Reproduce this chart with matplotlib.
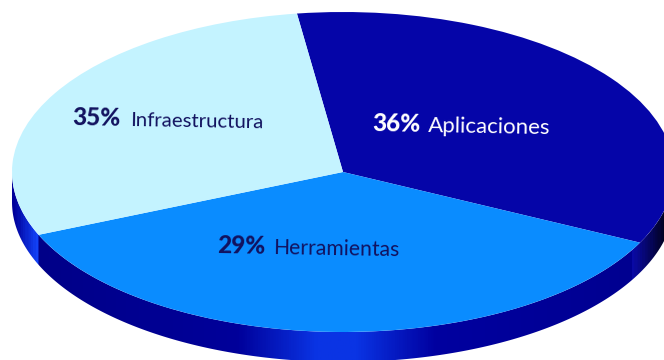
import numpy as np
import matplotlib
matplotlib.use('Agg')
from matplotlib import pyplot as plt
from matplotlib.colors import LinearSegmentedColormap
from matplotlib.patches import Polygon

# shares as drawn in the picture (they don't follow the printed percents)
names = ['Aplicaciones', 'Herramientas', 'Infraestructura']
percents = ['36%', '29%', '35%']
drawn_shares = [34.5, 36.3, 29.2]
colors = ['#0505a8', '#0a8cff', '#c4f3ff']
text_colors = ['white', '#12125f', '#12125f']

W, H = 664, 360
cx, cy, rx, ry = 343, 172, 331, 160
depth = 30 / ry

fig = plt.figure(figsize=(W / 100, H / 100), dpi=100)
ax = fig.add_axes([0, 0, 1, 1])

# wall of the pie, shaded left to right
t = np.linspace(np.pi, 2 * np.pi, 300)
wall = np.vstack([np.c_[np.cos(t), np.sin(t) - depth], np.c_[np.cos(t[::-1]), np.sin(t[::-1])]])
wall_cmap = LinearSegmentedColormap.from_list('wall', [
    (0.0, '#00009a'), (0.038, '#1448ff'), (0.0381, '#000088'), (0.34, '#00009a'),
    (0.46, '#0a34e4'), (0.52, '#0a34e4'), (0.64, '#0000a0'), (0.94, '#000090'),
    (0.9401, '#0a0aa8'), (1.0, '#000000')])
side = ax.imshow(np.linspace(0, 1, 600)[None, :], cmap=wall_cmap, aspect='auto',
                 extent=(-1, 1, -1 - depth, 1), zorder=1)
clip = Polygon(wall, closed=True, transform=ax.transData, fc='none', ec='none')
ax.add_patch(clip)
side.set_clip_path(clip)

wedges, _ = ax.pie(drawn_shares, colors=colors, startangle=98, counterclock=False,
                   radius=1, wedgeprops=dict(linewidth=0, zorder=2))

ax.set_aspect('auto')
ax.set_xlim(-cx / rx, (W - cx) / rx)
ax.set_ylim(-(H - cy) / ry, cy / ry)
ax.axis('off')

# label positions in pixels: percent x, percent baseline, name x, name baseline
label_pos = [(372, 131, 428, 132), (217, 253, 273, 254), (72, 125, 130, 126)]
name_sizes = [16, 15.2, 14.7]
for i in range(3):
    px, py, nx, ny = label_pos[i]
    fig.text(px / W, 1 - py / H, percents[i], family='Lato', weight='black', fontsize=17.5,
             color=text_colors[i], va='baseline', rotation=-1, rotation_mode='anchor')
    fig.text(nx / W, 1 - ny / H, names[i], family='Lato', weight='normal', fontsize=name_sizes[i],
             color=text_colors[i], va='baseline', rotation=-1, rotation_mode='anchor')

fig.savefig('out.png', dpi=100)
